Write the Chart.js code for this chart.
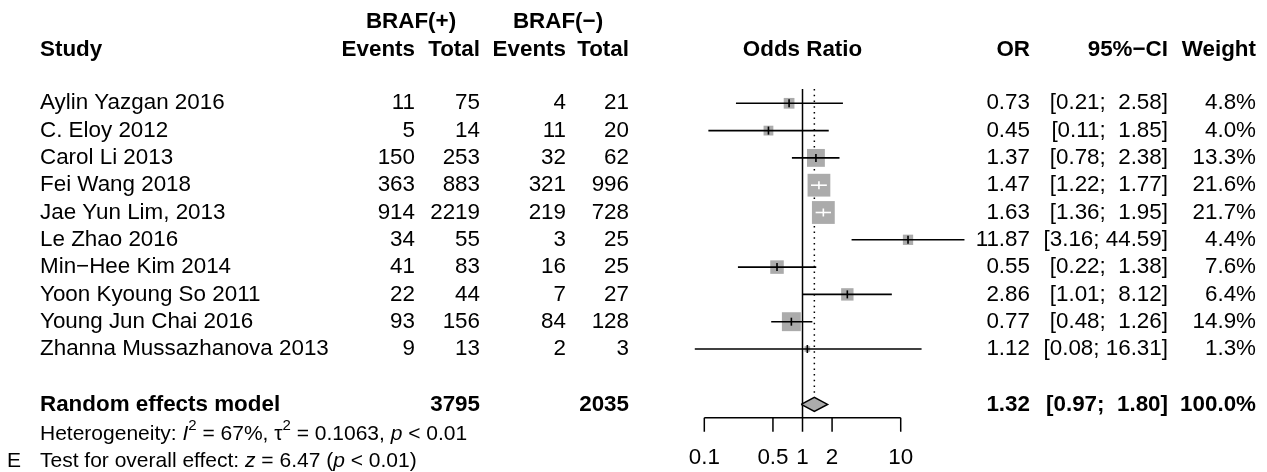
<!DOCTYPE html>
<html>
<head>
<meta charset="utf-8">
<script src="https://cdn.jsdelivr.net/npm/chart.js@4.4.0/dist/chart.umd.min.js"></script>
<style>
  html, body { margin: 0; padding: 0; background: #fff; }
  #wrap { width: 1267px; height: 472px; position: relative; }
</style>
</head>
<body>
<div id="wrap"><canvas id="forest"></canvas></div>
<script>
// study data
const studies = ['Aylin Yazgan 2016', 'C. Eloy 2012', 'Carol Li 2013', 'Fei Wang 2018', 'Jae Yun Lim, 2013',
    'Le Zhao 2016', 'Min\u2212Hee Kim 2014', 'Yoon Kyoung So 2011', 'Young Jun Chai 2016', 'Zhanna Mussazhanova 2013'];
const eventsPos = [11, 5, 150, 363, 914, 34, 41, 22, 93, 9];
const totalPos = [75, 14, 253, 883, 2219, 55, 83, 44, 156, 13];
const eventsNeg = [4, 11, 32, 321, 219, 3, 16, 7, 84, 2];
const totalNeg = [21, 20, 62, 996, 728, 25, 25, 27, 128, 3];
const oddsRatio = [0.73, 0.45, 1.37, 1.47, 1.63, 11.87, 0.55, 2.86, 0.77, 1.12];
const ciLower = [0.21, 0.11, 0.78, 1.22, 1.36, 3.16, 0.22, 1.01, 0.48, 0.08];
const ciUpper = [2.58, 1.85, 2.38, 1.77, 1.95, 44.59, 1.38, 8.12, 1.26, 16.31];
const weights = [4.8, 4.0, 13.3, 21.6, 21.7, 4.4, 7.6, 6.4, 14.9, 1.3];

// pooled (random effects) result
const pooledOR = 1.32;
const pooledLower = 0.97;
const pooledUpper = 1.80;
const pooledWeight = 100.0;
const pooledTotalPos = 3795;
const pooledTotalNeg = 2035;
const hetI2 = 67;
const hetTau2 = 0.1063;
const overallZ = 6.47;

// axis ticks
const axisTicks = [0.1, 0.5, 1, 2, 10];
const tickLabels = ['0.1', '0.5', '1', '2', '10'];

// layout (rows of the table; row 1 = first study)
const studyRows = studies.map((s, i) => i + 1);
const HEAD_ROW_1 = -2;
const HEAD_ROW_2 = -0.95;
const SUMMARY_ROW = 12.03;
const AXIS_ROW = 12.52;
const TICK_END_ROW = 13.03;
const TICK_LABEL_ROW = 14.0;
const HET_ROW = 13.12;
const TEST_ROW = 14.1;
const REF_TOP_ROW = 0.48;
const DIAMOND_HALF = 0.26;
const SQUARE_SCALE = 4.9;

const FONT = '"Liberation Sans", Arial, sans-serif';
const FONT_SIZE = 22.4;
const GREY = '#ababab';

function squareSide(i) {
    return SQUARE_SCALE * Math.sqrt(weights[i]);
}

// CI drawn in white when it fits inside the square
function ciInside(chart, i) {
    const xs = chart.scales.x;
    const span = xs.getPixelForValue(ciUpper[i]) - xs.getPixelForValue(ciLower[i]);
    return span < squareSide(i);
}

function fmtCI(lo, hi) {
    return '[' + lo.toFixed(2) + '; ' + hi.toFixed(2).padStart(5, ' ') + ']';
}

const datasets = [];

// estimate ticks (on top)
datasets.push({
    data: oddsRatio.map((v, i) => ({x: v, y: studyRows[i]})),
    pointStyle: 'line',
    pointRotation: 90,
    pointRadius: 4,
    pointBorderWidth: 1.6,
    pointBorderColor: ctx => ciInside(ctx.chart, ctx.dataIndex) ? '#fff' : '#000',
    order: 0
});

// confidence intervals
studies.forEach((s, i) => {
    datasets.push({
        data: [{x: ciLower[i], y: studyRows[i]}, {x: ciUpper[i], y: studyRows[i]}],
        showLine: true,
        pointRadius: 0,
        borderWidth: 1.6,
        borderColor: ctx => ciInside(ctx.chart, i) ? '#fff' : '#000',
        order: 1
    });
});

// weight squares
datasets.push({
    data: oddsRatio.map((v, i) => ({x: v, y: studyRows[i]})),
    pointStyle: 'rect',
    pointRadius: ctx => squareSide(ctx.dataIndex) / Math.SQRT2,
    pointBackgroundColor: GREY,
    pointBorderWidth: 0,
    order: 2
});

// summary diamond
datasets.push({
    data: [
        {x: pooledLower, y: SUMMARY_ROW},
        {x: pooledOR, y: SUMMARY_ROW - DIAMOND_HALF},
        {x: pooledUpper, y: SUMMARY_ROW},
        {x: pooledOR, y: SUMMARY_ROW + DIAMOND_HALF},
        {x: pooledLower, y: SUMMARY_ROW}
    ],
    showLine: true,
    fill: 'shape',
    backgroundColor: GREY,
    borderColor: '#000',
    borderWidth: 1.5,
    pointRadius: 0,
    order: 1
});

// dotted line at pooled estimate
datasets.push({
    data: [{x: pooledOR, y: REF_TOP_ROW}, {x: pooledOR, y: SUMMARY_ROW - DIAMOND_HALF}],
    showLine: true,
    borderColor: '#000',
    borderWidth: 1.5,
    borderDash: [1.5, 4.2],
    pointRadius: 0,
    order: 3
});

// line of no effect
datasets.push({
    data: [{x: 1, y: REF_TOP_ROW}, {x: 1, y: AXIS_ROW}],
    showLine: true,
    borderColor: '#000',
    borderWidth: 1.5,
    pointRadius: 0,
    order: 3
});

// x axis line and ticks
const axisData = [{x: axisTicks[0], y: AXIS_ROW}, {x: axisTicks[axisTicks.length - 1], y: AXIS_ROW}, {x: 1, y: null}];
axisTicks.forEach(t => {
    axisData.push({x: t, y: AXIS_ROW}, {x: t, y: TICK_END_ROW}, {x: t, y: null});
});
datasets.push({
    data: axisData,
    showLine: true,
    spanGaps: false,
    borderColor: '#000',
    borderWidth: 1.5,
    pointRadius: 0,
    order: 3
});

const tablePlugin = {
    id: 'forestTable',
    afterDraw(chart) {
        const ctx = chart.ctx;
        const xs = chart.scales.x;
        const ys = chart.scales.y;
        const text = (s, px, row, align, weight, size) => {
            ctx.font = (weight || '') + ' ' + (size || FONT_SIZE) + 'px ' + FONT;
            ctx.textAlign = align;
            ctx.fillText(s, px, ys.getPixelForValue(row));
        };
        // pieces: [text, style]  style: 'n' normal, 'i' italic, 's' superscript
        const rich = (pieces, px, row, size) => {
            let cx = px;
            const py = ys.getPixelForValue(row);
            ctx.textAlign = 'left';
            pieces.forEach(([s, st]) => {
                let f = size + 'px ' + FONT;
                let dy = 0;
                if (st === 'i') f = 'italic ' + f;
                if (st === 's') { f = Math.round(size * 0.7) + 'px ' + FONT; dy = -size * 0.38; }
                ctx.font = f;
                ctx.fillText(s, cx, py + dy);
                cx += ctx.measureText(s).width;
            });
        };

        ctx.save();
        ctx.fillStyle = '#000';
        ctx.textBaseline = 'middle';

        // headers
        text('BRAF(+)', 411, HEAD_ROW_1, 'center', 'bold');
        text('BRAF(\u2212)', 558, HEAD_ROW_1, 'center', 'bold');
        text('Study', 40, HEAD_ROW_2, 'left', 'bold');
        text('Events', 415, HEAD_ROW_2, 'right', 'bold');
        text('Total', 480, HEAD_ROW_2, 'right', 'bold');
        text('Events', 566, HEAD_ROW_2, 'right', 'bold');
        text('Total', 629, HEAD_ROW_2, 'right', 'bold');
        text('Odds Ratio', xs.getPixelForValue(1), HEAD_ROW_2, 'center', 'bold');
        text('OR', 1030, HEAD_ROW_2, 'right', 'bold');
        text('95%\u2212CI', 1168, HEAD_ROW_2, 'right', 'bold');
        text('Weight', 1256, HEAD_ROW_2, 'right', 'bold');

        // study rows
        studies.forEach((s, i) => {
            const r = studyRows[i];
            text(s, 40, r, 'left');
            text(String(eventsPos[i]), 415, r, 'right');
            text(String(totalPos[i]), 480, r, 'right');
            text(String(eventsNeg[i]), 566, r, 'right');
            text(String(totalNeg[i]), 629, r, 'right');
            text(oddsRatio[i].toFixed(2), 1030, r, 'right');
            text(fmtCI(ciLower[i], ciUpper[i]), 1168, r, 'right');
            text(weights[i].toFixed(1) + '%', 1256, r, 'right');
        });

        // pooled row
        text('Random effects model', 40, SUMMARY_ROW, 'left', 'bold');
        text(String(pooledTotalPos), 480, SUMMARY_ROW, 'right', 'bold');
        text(String(pooledTotalNeg), 629, SUMMARY_ROW, 'right', 'bold');
        text(pooledOR.toFixed(2), 1030, SUMMARY_ROW, 'right', 'bold');
        text(fmtCI(pooledLower, pooledUpper), 1168, SUMMARY_ROW, 'right', 'bold');
        text(pooledWeight.toFixed(1) + '%', 1256, SUMMARY_ROW, 'right', 'bold');

        // heterogeneity and overall effect
        rich([['Heterogeneity: ', 'n'], ['I', 'i'], ['2', 's'], [' = ' + hetI2 + '%, ', 'n'],
            ['\u03c4', 'n'], ['2', 's'], [' = ' + hetTau2.toFixed(4) + ', ', 'n'], ['p', 'i'], [' < 0.01', 'n']],
            40, HET_ROW, 21);
        rich([['Test for overall effect: ', 'n'], ['z', 'i'], [' = ' + overallZ.toFixed(2) + ' (', 'n'],
            ['p', 'i'], [' < 0.01)', 'n']], 40, TEST_ROW, 21);
        text('E', 7, TEST_ROW, 'left', '', 21);

        // axis tick labels
        axisTicks.forEach((t, i) => {
            text(tickLabels[i], xs.getPixelForValue(t), TICK_LABEL_ROW, 'center');
        });

        ctx.restore();
    }
};

new Chart(document.getElementById('forest'), {
    type: 'scatter',
    data: {datasets: datasets},
    options: {
        responsive: true,
        maintainAspectRatio: false,
        animation: false,
        layout: {padding: 0, autoPadding: false},
        plugins: {
            legend: {display: false},
            tooltip: {enabled: false}
        },
        scales: {
            x: {
                type: 'logarithmic',
                display: false,
                bounds: 'data',
                min: Math.pow(10, -8.1721),
                max: Math.pow(10, 4.730)
            },
            y: {
                type: 'linear',
                display: false,
                reverse: true,
                min: -2.784,
                max: 14.506
            }
        }
    },
    plugins: [tablePlugin]
});
</script>
</body>
</html>
